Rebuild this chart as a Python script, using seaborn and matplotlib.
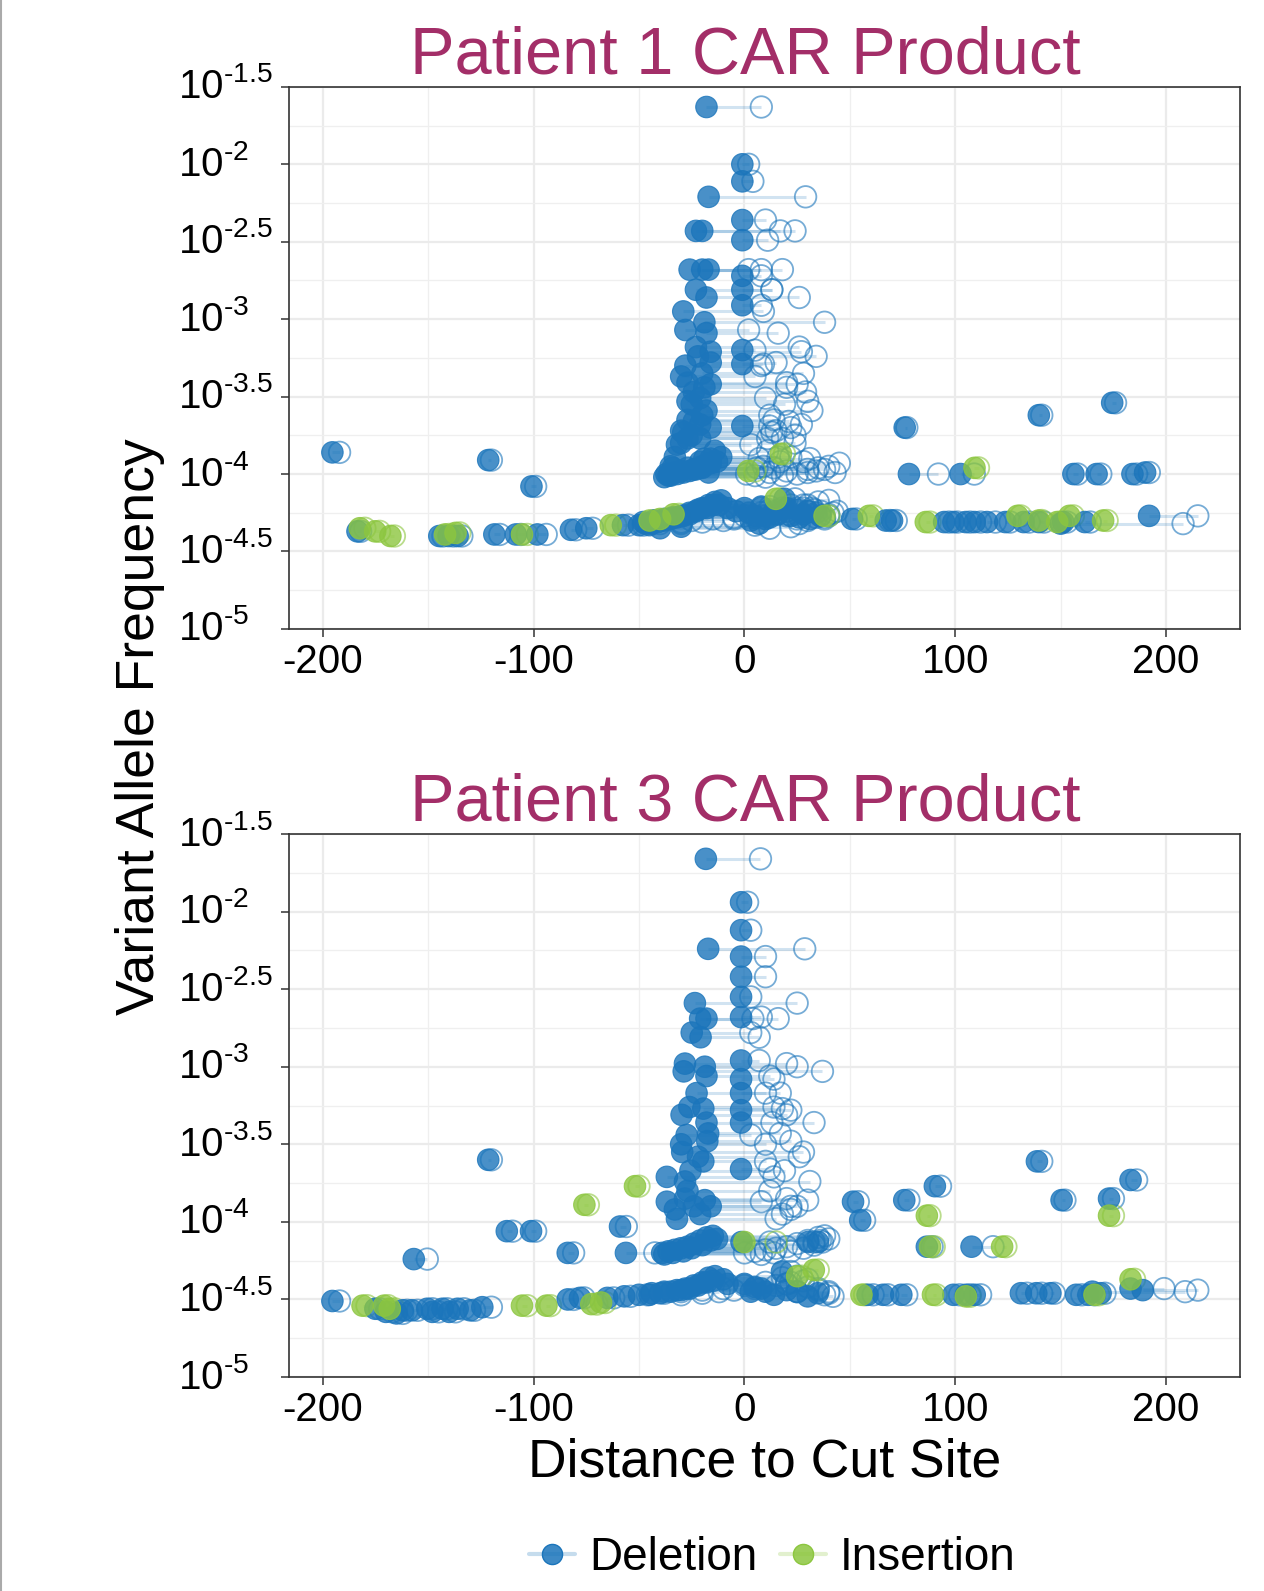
import numpy as np
import pandas as pd
import seaborn as sns
import matplotlib.pyplot as plt
import matplotlib.colors as mcolors
from matplotlib.lines import Line2D

# ---- data ----
# each variant: filled dot at start, open dot at end, log10 VAF
p1_del_start = [-18, -1, -1, -17, -1, -23, -20, -1, -26, -20, -17, -1, -23, -1, -18, -1,
                -29, -19, -28, -18, -23, -1, -16, -22, -16, -1, -30, -27, -16, -24, -21, -25,
                -18, -27, -21, -1, -16, -27, -21, -32, -16, -21, -34, -27, -37, -36, -33, -30,
                -24, -20, -17, -13, -11, -35, -33, -30, -29, -24, -19, -14,
                76, 139.6, 174.4, 78, 102.5, 156, 167, 184, 190, -195.4, -121.5, -101,
                -183.5, -144.7, -140.3, -136, -118.6, -108.4, -98.2, -82.3, -75, -57.6,
                -50, -47, -44, -41, -38, -35, -32, -29, -26, -23, -20, -17, -14, -11,
                0, 2, 5, 8, 10, 14, 19, 22, 25, 28, 31, 34, -45, -40, -30,
                51, 67, 70, 94.7, 99.1, 104.9, 109.2, 115, 123.7, 132.4, 139.6, 151.2, 161.4,
                191.9, 150,
                -48, -43, -38, -34, -30, -26, -22, -18, -15, -12, -8, -4, 3, 7, 12, 16, 20,
                26, 30, 36,
                -38, -35, -32, -29, -26, -23, -20, -16,
                -30, -25, -20, -27, -19, -28, -20]
p1_del_end = [8, 2, 4, 29, 10, 17, 24, 11, 2, 8, 18, 8, 13, 13, 26, 8,
              9, 38, 2, 16, 26, 5, 27, 34, 15, 9, 5, 20, 25, 29, 10, 19,
              32, 14, 27, 12, 22, 11, 18, 3, 7, 17, 6, 14, 1, 5, 12, 20,
              30, 35, 43, 28, 22, 9, 16, 24, 13, 21, 31, 11,
              77, 141, 176, 92, 109, 158, 169, 186, 192, -192, -120, -99,
              -182, -143, -138, -134, -116, -106, -94, -80, -72, -55,
              -48, -40, -30, -20, -10, -5, 5, 10, 15, 20, 25, 30, 35, 40,
              8, 15, 20, 12, 25, 30, 24, 36, 33, 40, 38, 42, 5, 12, 22,
              53, 69, 72, 97, 101, 107, 112, 119, 126, 135, 142, 153, 164,
              215, 208,
              -30, -25, -15, -5, 0, 8, 12, 18, 22, 28, 32, 36, 30, 26, 34, 20, 28,
              38, 44, 40,
              10, 18, 25, 30, 34, 38, 40, 45,
              15, 24, 12, 30, 20, 8, 28]
p1_del_log = [-1.63, -2.00, -2.11, -2.21, -2.36, -2.43, -2.43, -2.49, -2.68, -2.68, -2.68, -2.72,
              -2.81, -2.81, -2.86, -2.91, -2.95, -3.02, -3.07, -3.09, -3.18, -3.20, -3.21, -3.24,
              -3.28, -3.29, -3.37, -3.41, -3.42, -3.47, -3.51, -3.55, -3.59, -3.65, -3.68, -3.69,
              -3.70, -3.77, -3.77, -3.81, -3.90, -3.92, -3.96, -3.96, -4.00, -4.01, -3.99, -3.98,
              -3.97, -3.96, -3.99, -3.92, -3.89, -3.95, -3.89, -3.80, -3.73, -3.66, -3.90, -3.85,
              -3.70, -3.62, -3.54, -4.00, -4.00, -4.00, -4.00, -4.00, -3.99, -3.86, -3.91, -4.08,
              -4.37, -4.40, -4.40, -4.40, -4.39, -4.39, -4.39, -4.36, -4.35, -4.33,
              -4.33, -4.32, -4.32, -4.31, -4.30, -4.29, -4.28, -4.27, -4.26, -4.24, -4.22, -4.20,
              -4.18, -4.17,
              -4.22, -4.25, -4.27, -4.21, -4.29, -4.24, -4.16, -4.27, -4.23, -4.26, -4.29, -4.25,
              -4.33, -4.35, -4.34,
              -4.29, -4.30, -4.30, -4.31, -4.31, -4.31, -4.31, -4.31, -4.31, -4.31, -4.31, -4.31,
              -4.31, -4.27, -4.32,
              -4.31, -4.30, -4.29, -4.28, -4.27, -4.25, -4.23, -4.22, -4.20, -4.20, -4.22, -4.24,
              -4.30, -4.32, -4.28, -4.26, -4.22, -4.28, -4.24, -4.27,
              -4.02, -4.01, -4.00, -3.99, -3.98, -3.97, -3.95, -3.93,
              -3.72, -3.75, -3.62, -3.53, -3.44, -3.30, -3.35]

p1_ins_start = [1.8, 17.3, 109.1, -182.4, -175.1, -167.9, -142, -137, -105.5, -63.4, -45, -40,
                -33.6, 14.9, 38, 59, 86, 129.5, 139.6, 148.3, 154.1, 170.1]
p1_ins_end = [5, 19, 111, -180, -173, -166, -140, -135, -103, -61, -42, -37,
              -31, 17, 40, 61, 88, 131, 141, 150, 156, 172]
p1_ins_log = [-3.98, -3.87, -3.96, -4.35, -4.37, -4.40, -4.39, -4.38, -4.39, -4.33, -4.30, -4.29,
              -4.26, -4.16, -4.27, -4.27, -4.31, -4.27, -4.30, -4.31, -4.27, -4.30]

p2_del_start = [-18.3, -1.6, -1.6, -17.2, -1.6, -1.6, -1.6, -23.5, -1.6, -18, -21, -25, -20.8,
                -1.6, -28.2, -28.8, -18.8, -18, -1.6, -22.7, -1.6, -29.8, -26.1, -19.5, -18,
                -1.6, -1.6, -27.4, -17.2, -29.5, -17.6, -25.6, -19.5, -36.8, -28.2, -1.6,
                -36.8, -28.2, -18.8, -32, -24, -16, -59, -56.2,
                -39, -36, -33, -30, -27, -24, -21, -18, -15, -1.4, 30.2, 34.9,
                51.5, 54.9, 75.8, 90.3, 86.5, 107.7, 138.7, 150.4, 172.9, 183.1,
                -121.5, -112.7, -101.2, -156.8, -83.8,
                -195.4, -175, -162, -157.7, -150.4, -143.2, -136, -124.3, -83.8, -78, -65, -57,
                -50, -44, -38, -32, -28, -24, -20, -17, -14, -10, 0, 5, 10, 17.8, 20, 34.8,
                58.4, 65.7, 74.4, 99.1, 105, 109.2, 131.1, 138.4, 145.1, 157.3, 163.1, 168.9,
                183.1, 188.9, 165,
                -38, -34, -29, -25, -20, -16, -13,
                -45, -40, -35, -30, -26, -22, -18, -15, -8, 3, 8, 14, 25, 30,
                -170, -165, -148, -140, -130,
                -30, -22, -27, -21, -33]
p2_del_end = [7.6, 1.5, 3, 28.6, 10, 10, 3, 25, 8, 16, 4, 3, 7,
              7, 20, 37, 25, 12, 14, 10, 17, 20, 14, 18, 33,
              22, 13, 3, 17, 28, 22, 19, 10, 14, 31, 12,
              8, 20, 30, 15, 25, 22, -56, -42.5,
              0, 5, 10, 15, 20, 25, 30, 35, 38, 12, 33, 37,
              54, 57, 78, 93, 89, 117.9, 141, 152, 175, 186,
              -120, -110, -99, -150.4, -81,
              -192, -173, -160, -155, -148, -141, -133, -120, -81, -76, -62, -54,
              -46, -38, -30, -20, -10, 0, 10, 18, 25, 30, 20, 30, 25, 22, 35, 40,
              61, 68, 77, 102, 107, 112, 134, 141, 147, 160, 166, 171,
              199, 215, 209,
              8, 14, 22, 28, 33, 36, 40,
              -30, -20, -12, -5, 5, 15, 22, 28, 20, 25, 35, 38, 40, 42,
              -167, -162, -145, -137, -128,
              10, 26, 12, 18, 22]
p2_del_log = [-1.66, -1.94, -2.12, -2.24, -2.29, -2.42, -2.55, -2.59, -2.68, -2.69, -2.69, -2.78,
              -2.81, -2.96, -2.98, -3.03, -3.00, -3.06, -3.08, -3.17, -3.17, -3.31, -3.26, -3.27,
              -3.36, -3.28, -3.36, -3.44, -3.43, -3.55, -3.48, -3.67, -3.61, -3.71, -3.74, -3.66,
              -3.87, -3.85, -3.86, -3.98, -3.90, -3.90, -4.03, -4.20,
              -4.20, -4.19, -4.18, -4.17, -4.16, -4.14, -4.12, -4.10, -4.09, -4.13, -4.13, -4.13,
              -3.87, -3.99, -3.86, -3.77, -4.16, -4.16, -3.61, -3.86, -3.85, -3.73,
              -3.60, -4.06, -4.06, -4.24, -4.20,
              -4.51, -4.56, -4.57, -4.57, -4.56, -4.56, -4.56, -4.55, -4.50, -4.49, -4.49, -4.48,
              -4.47, -4.46, -4.45, -4.44, -4.43, -4.41, -4.39, -4.36, -4.35, -4.37, -4.40, -4.42,
              -4.45, -4.32, -4.44, -4.46,
              -4.47, -4.47, -4.47, -4.47, -4.47, -4.47, -4.46, -4.46, -4.46, -4.47, -4.47, -4.46,
              -4.43, -4.44, -4.45,
              -4.21, -4.20, -4.19, -4.17, -4.15, -4.12, -4.11,
              -4.47, -4.46, -4.45, -4.44, -4.43, -4.41, -4.39, -4.38, -4.40, -4.45, -4.43, -4.47,
              -4.45, -4.48,
              -4.58, -4.59, -4.58, -4.58, -4.57,
              -3.50, -3.58, -3.80, -3.95, -3.92]

p2_ins_start = [-51.9, -75.9, 86.5, 88, 122.2, 172.9, 183.1, -181.1, -170.9, -168.2, -105.5,
                -93.9, -72.6, -68, 25, 32.9, 55.5, 89.4, 105, 166, 0]
p2_ins_end = [-50, -74, 88, 90, 124, 175, 185, -179, -169, -166, -103,
              -92, -70, -66, 27, 35, 57, 91, 107, 168, 15]
p2_ins_log = [-3.77, -3.89, -3.96, -4.16, -4.16, -3.96, -4.37, -4.54, -4.54, -4.56, -4.54,
              -4.54, -4.53, -4.52, -4.35, -4.31, -4.47, -4.47, -4.48, -4.47, -4.13]

titles = ["Patient 1 CAR Product", "Patient 3 CAR Product"]
x_ticks = [-200, -100, 0, 100, 200]
y_exps = [-5, -4.5, -4, -3.5, -3, -2.5, -2, -1.5]
y_tick_labels = [r"$10^{\text{-5}}$", r"$10^{\text{-4.5}}$", r"$10^{\text{-4}}$",
                 r"$10^{\text{-3.5}}$", r"$10^{\text{-3}}$", r"$10^{\text{-2.5}}$",
                 r"$10^{\text{-2}}$", r"$10^{\text{-1.5}}$"]

BLUE = "#1B75BB"
GREEN = "#8CC63F"
TITLE_COLOR = "#A32E68"


def make_frame(del_s, del_e, del_l, ins_s, ins_e, ins_l):
    d = pd.DataFrame({"start": del_s, "end": del_e, "logvaf": del_l, "type": "Deletion"})
    i = pd.DataFrame({"start": ins_s, "end": ins_e, "logvaf": ins_l, "type": "Insertion"})
    df = pd.concat([d, i], ignore_index=True)
    df["vaf"] = 10 ** df["logvaf"]
    return df


def set_config():
    sns.set_theme(style="white")
    plt.rcParams["font.family"] = ["Liberation Sans", "DejaVu Sans"]
    plt.rcParams["mathtext.fontset"] = "custom"
    plt.rcParams["mathtext.rm"] = "Liberation Sans"
    plt.rcParams["mathtext.default"] = "regular"
    plt.rcParams["axes.unicode_minus"] = False
    plt.rcParams["text.color"] = "black"


def draw_panel(ax, df):
    palette = {"Deletion": BLUE, "Insertion": GREEN}
    # connecting segments
    for kind, col in palette.items():
        sub = df[df["type"] == kind]
        ax.hlines(sub["vaf"], sub["start"], sub["end"], colors=col, alpha=0.2,
                  linewidth=2.2, zorder=2)
    # open circles at the end position
    for kind, col in palette.items():
        sub = df[df["type"] == kind]
        ax.scatter(sub["end"], sub["vaf"], s=240, facecolors="none", edgecolors=col,
                   alpha=0.6, linewidths=1.3, zorder=3)
    # filled circles at the start position
    sns.scatterplot(data=df, x="start", y="vaf", hue="type", palette=palette, s=240,
                    alpha=0.8, linewidth=0.8, edgecolor=None, legend=False, ax=ax, zorder=4)

    ax.set_yscale("log")
    ax.set_ylim(10 ** -5, 10 ** -1.5)
    ax.set_xlim(-216, 235)
    ax.set_yticks([10 ** e for e in y_exps])
    ax.set_yticklabels(y_tick_labels)
    ax.set_yticks([10 ** (e + 0.25) for e in y_exps[:-1]], minor=True)
    ax.set_xticks(x_ticks)
    ax.set_xticklabels([str(t) for t in x_ticks])
    ax.set_xticks([-150, -50, 50, 150], minor=True)
    ax.set_xlabel("")
    ax.set_ylabel("")

    ax.grid(True, which="major", color="#EBEBEB", linewidth=1.6, zorder=0)
    ax.grid(True, which="minor", color="#EFEFEF", linewidth=0.9, zorder=0)
    ax.set_axisbelow(True)
    for sp in ax.spines.values():
        sp.set_color("#333333")
        sp.set_linewidth(1.2)

    ax.tick_params(axis="both", which="major", length=5.8, width=1.1, color="#333333",
                   labelsize=29, labelcolor="black", left=True, bottom=True)
    ax.tick_params(axis="both", which="minor", length=0)
    ax.tick_params(axis="x", pad=4)
    ax.tick_params(axis="y", pad=74)
    for lab in ax.get_yticklabels():
        lab.set_horizontalalignment("left")
        lab.set_verticalalignment("center")


def main():
    set_config()
    panels = [
        make_frame(p1_del_start, p1_del_end, p1_del_log, p1_ins_start, p1_ins_end, p1_ins_log),
        make_frame(p2_del_start, p2_del_end, p2_del_log, p2_ins_start, p2_ins_end, p2_ins_log),
    ]

    fig = plt.figure(figsize=(12.64, 15.91), dpi=100)
    fig.patch.set_facecolor("white")
    axes = [fig.add_axes([0.2286, 0.6047, 0.7524, 0.3407]),
            fig.add_axes([0.2286, 0.1345, 0.7524, 0.3413])]
    title_y = [0.9539, 0.4846]
    for ax, df, title, ty in zip(axes, panels, titles, title_y):
        draw_panel(ax, df)
        fig.text(0.5894, ty, title, ha="center", va="baseline", fontsize=48,
                 color=TITLE_COLOR)

    fig.text(0.111, 0.543, "Variant Allele Frequency", rotation=90, ha="center",
             va="center", fontsize=38.5, color="black")
    fig.text(0.605, 0.0718, "Distance to Cut Site", ha="center", va="baseline",
             fontsize=38.5, color="black")

    handles = []
    for col in [BLUE, GREEN]:
        handles.append(Line2D([0], [0], color=(*mcolors.to_rgb(col), 0.25), lw=3,
                              marker="o", markersize=14.5,
                              markerfacecolor=(*mcolors.to_rgb(col), 0.85),
                              markeredgecolor=col, markeredgewidth=1))
    fig.legend(handles, ["Deletion", "Insertion"], loc="center",
               bbox_to_anchor=(0.611, 0.0205), ncol=2, frameon=False, fontsize=33,
               handlelength=1.0, handletextpad=0.3, columnspacing=0.5, labelcolor="black")

    fig.add_artist(Line2D([0.001, 0.001], [0, 1], color="#AAAAAA", lw=1.5,
                          transform=fig.transFigure))

    fig.savefig("out.png", dpi=100, facecolor="white")


if __name__ == "__main__":
    main()
